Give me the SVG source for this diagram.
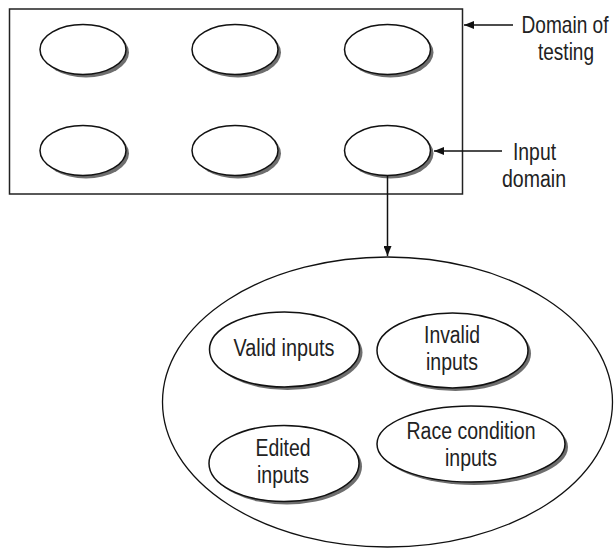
<svg xmlns="http://www.w3.org/2000/svg" width="614" height="557" viewBox="0 0 614 557">
<style>
.sh{fill:#6e6e6e;stroke:none}
.el{fill:#fff;stroke:#111;stroke-width:1.5}
.big{fill:#fff;stroke:#111;stroke-width:1.3}
.box{fill:none;stroke:#222;stroke-width:1.5}
.ln{stroke:#111;stroke-width:1.5;fill:none}
text{font-family:"Liberation Sans",Arial,sans-serif;font-size:23px;fill:#222;text-anchor:middle}
</style>
<defs>
<marker id="ah" viewBox="0 0 10 8" refX="10" refY="4" markerWidth="10" markerHeight="8" markerUnits="userSpaceOnUse" orient="auto">
<path d="M0,0 L10,4 L0,8 Z" fill="#111"/>
</marker>
</defs>
<rect width="614" height="557" fill="#fff"/>
<g id="domain-of-testing-box">
<rect class="box" x="9.5" y="9" width="453" height="185"/>
</g>
<g id="e1"><ellipse class="sh" cx="86" cy="52.5" rx="43" ry="25"/><ellipse class="el" cx="83" cy="49.5" rx="43" ry="25"/></g>
<g id="e2"><ellipse class="sh" cx="238" cy="52.5" rx="43" ry="25"/><ellipse class="el" cx="235" cy="49.5" rx="43" ry="25"/></g>
<g id="e3"><ellipse class="sh" cx="390.5" cy="52.5" rx="43" ry="25"/><ellipse class="el" cx="387.5" cy="49.5" rx="43" ry="25"/></g>
<g id="e4"><ellipse class="sh" cx="86" cy="153.5" rx="43" ry="25"/><ellipse class="el" cx="83" cy="150.5" rx="43" ry="25"/></g>
<g id="e5"><ellipse class="sh" cx="238" cy="153.5" rx="43" ry="25"/><ellipse class="el" cx="235" cy="150.5" rx="43" ry="25"/></g>
<g id="e6"><ellipse class="sh" cx="390.5" cy="153.5" rx="43" ry="25"/><ellipse class="el" cx="387.5" cy="150.5" rx="43" ry="25"/></g>
<g id="label-domain">
<text transform="translate(565,33) scale(0.83,1)" x="0" y="0">Domain of</text>
<text x="566" y="60" textLength="56" lengthAdjust="spacingAndGlyphs">testing</text>
</g>
<g id="label-input">
<text x="534.5" y="160" textLength="43" lengthAdjust="spacingAndGlyphs">Input</text>
<text x="534" y="187" textLength="64" lengthAdjust="spacingAndGlyphs">domain</text>
</g>
<g id="input-domain-expanded">
<ellipse class="big" cx="387.5" cy="402" rx="225" ry="145"/>
</g>
<g id="valid"><ellipse class="sh" cx="287.5" cy="352.5" rx="75" ry="37.5"/><ellipse class="el" cx="284.5" cy="349.5" rx="75" ry="37.5"/>
<text x="284" y="356" textLength="101" lengthAdjust="spacingAndGlyphs">Valid inputs</text></g>
<g id="invalid"><ellipse class="sh" cx="455.5" cy="353.5" rx="75.5" ry="37.5"/><ellipse class="el" cx="452.5" cy="350.5" rx="75.5" ry="37.5"/>
<text x="452" y="343" textLength="56" lengthAdjust="spacingAndGlyphs">Invalid</text>
<text x="452" y="370" textLength="52" lengthAdjust="spacingAndGlyphs">inputs</text></g>
<g id="edited"><ellipse class="sh" cx="287" cy="466.5" rx="75" ry="38"/><ellipse class="el" cx="284" cy="463.5" rx="75" ry="38"/>
<text x="283" y="456" textLength="55" lengthAdjust="spacingAndGlyphs">Edited</text>
<text x="283" y="483" textLength="52" lengthAdjust="spacingAndGlyphs">inputs</text></g>
<g id="race"><ellipse class="sh" cx="474" cy="447" rx="94" ry="38"/><ellipse class="el" cx="471" cy="444" rx="94" ry="38"/>
<text x="471" y="439" textLength="129" lengthAdjust="spacingAndGlyphs">Race condition</text>
<text x="471" y="466" textLength="52" lengthAdjust="spacingAndGlyphs">inputs</text></g>
<g id="connectors">
<line class="ln" x1="513" y1="25" x2="464" y2="25" marker-end="url(#ah)"/>
<line class="ln" x1="502" y1="151" x2="434" y2="151" marker-end="url(#ah)"/>
<line class="ln" x1="387.5" y1="176" x2="387.5" y2="256" marker-end="url(#ah)"/>
</g>
</svg>
